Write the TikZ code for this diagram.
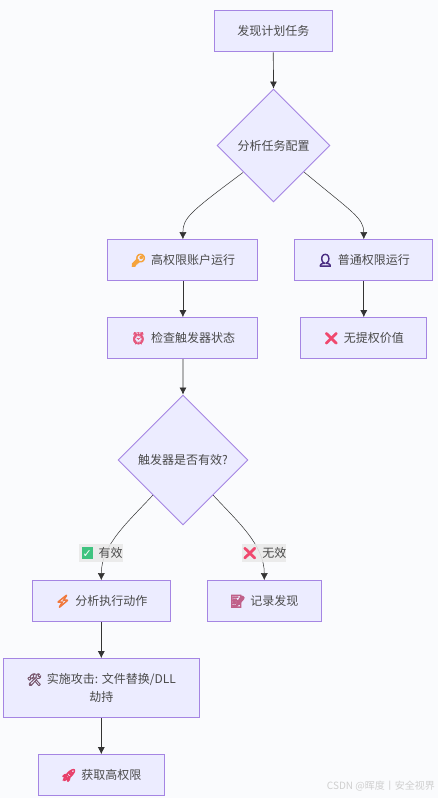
\documentclass[tikz,border=0pt]{standalone}
\usepackage{fontspec}
\setmainfont{Noto Sans CJK SC}
\newfontfamily\emofont[FakeBold=3]{Noto Emoji}
\newfontfamily\emoheavy[FakeBold=8]{Noto Emoji}
\newfontfamily\emolight[FakeBold=1]{Noto Emoji}
\newfontfamily\symfont{DejaVu Sans}
\usetikzlibrary{arrows.meta,shapes.geometric}
\definecolor{bgc}{HTML}{FAFBFD}
\definecolor{nodefill}{HTML}{ECECFF}
\definecolor{nodeline}{HTML}{A585E3}
\definecolor{edgec}{HTML}{333333}
\definecolor{txt}{HTML}{4A4A4A}
\definecolor{labbg}{HTML}{E9E9E9}
\definecolor{mark}{HTML}{CFCFCF}
\newcommand{\emo}[2]{{\emofont\textcolor[HTML]{#1}{#2}}\hspace{5pt}}
\newcommand{\emoh}[2]{{\emoheavy\textcolor[HTML]{#1}{#2}}\hspace{5pt}}
\newcommand{\emol}[2]{{\emolight\textcolor[HTML]{#1}{#2}}\hspace{5pt}}
\newcommand{\okmark}{{\setlength{\fboxsep}{0pt}\raisebox{-1.6pt}{\colorbox[HTML]{3FC380}{\makebox[11.5pt]{\rule{0pt}{11.5pt}\raisebox{1.2pt}{\symfont\fontsize{11}{11}\selectfont\textcolor{white}{✓}}}}}}\hspace{5.5pt}}
\tikzset{
  box/.style={draw=nodeline,fill=nodefill,line width=1pt,inner sep=0pt,text=txt,align=center,font=\fontsize{12}{18}\selectfont},
  dia/.style={diamond,shape aspect=1,draw=nodeline,fill=nodefill,line width=0.9pt,inner sep=0pt,text=txt,font=\fontsize{12}{18}\selectfont},
  edgeline/.style={draw=edgec,line width=0.7pt,-{Latex[length=7pt,width=7pt]}},
  curveline/.style={draw=edgec,line width=0.5pt,-{Latex[length=7pt,width=7pt]}},
  edgelabel/.style={fill=labbg,fill opacity=0.88,text opacity=1,inner sep=0pt,minimum width=44pt,minimum height=18.5pt,text=txt,font=\fontsize{12}{18}\selectfont},
}
\begin{document}
\begin{tikzpicture}[x=1pt,y=-1pt]
\useasboundingbox[fill=bgc] (0,0) rectangle (438,798);
\node[box,minimum width=118pt,minimum height=41pt] (a) at (273.3,31.3) {发现计划任务};
\node[dia,minimum width=113pt,minimum height=113pt] (b) at (273.5,145.5) {分析任务配置};
\node[box,minimum width=150pt,minimum height=41pt] (c) at (182.9,260.2) {\emoh{F5A33C}{🔑}高权限账户运行};
\node[box,minimum width=138pt,minimum height=41pt] (d) at (363.8,260.2) {\emoh{4B2E83}{👤}普通权限运行};
\node[box,minimum width=150pt,minimum height=41pt] (e) at (182.9,338.2) {\emol{E5547A}{⏰}检查触发器状态};
\node[box,minimum width=126pt,minimum height=41pt] (f) at (363.8,338.2) {\emo{F0486E}{❌}无提权价值};
\node[dia,minimum width=130pt,minimum height=130pt] (g) at (183,460) {触发器是否有效?};
\node[box,minimum width=138pt,minimum height=41pt] (h) at (101.3,601.2) {\emoh{F0783C}{⚡}分析执行动作};
\node[box,minimum width=114pt,minimum height=41pt] (i) at (264.3,601.2) {\emoh{C0608A}{📝}记录发现};
\node[box,minimum width=196pt,minimum height=59pt] (j) at (101.3,688.2) {\emo{7A5A70}{🛠}实施攻击: 文件替换/DLL\\劫持};
\node[box,minimum width=126pt,minimum height=41pt] (k) at (101.3,775.2) {\emoh{E8406A}{🚀}获取高权限};
\draw[edgeline] (a.south) -- (b.north);
\draw[curveline] ([xshift=-2pt,yshift=1.5pt]b.south west) .. controls (190,212) and (c.north |- 0,218) .. (c.north);
\draw[curveline] ([xshift=2pt,yshift=2pt]b.south east) .. controls (352,212) and (d.north |- 0,218) .. (d.north);
\draw[edgeline] (c.south) -- (e.north);
\draw[edgeline] (d.south) -- (f.north);
\draw[edgeline] (e.south) -- (g.north);
\draw[curveline] ([xshift=2.5pt,yshift=-2.5pt]g.south west) .. controls (128,522) and (h.north |- 0,545) .. (h.north);
\draw[curveline] ([xshift=-2.5pt,yshift=-2.5pt]g.south east) .. controls (238,522) and (i.north |- 0,545) .. (i.north);
\draw[edgeline] (h.south) -- (j.north);
\draw[edgeline] (j.south) -- (k.north);
\node[edgelabel] (yes) at (101.3,553) {\hspace{1.5pt}\okmark 有效};
\node[edgelabel] (no) at (264.3,553) {\emo{F0486E}{❌}无效};
\node[text=mark,inner sep=0pt,anchor=east,font=\fontsize{10}{12}\selectfont] (wm) at (435,786.5) {CSDN @晖度丨安全视界};
\end{tikzpicture}
\end{document}
